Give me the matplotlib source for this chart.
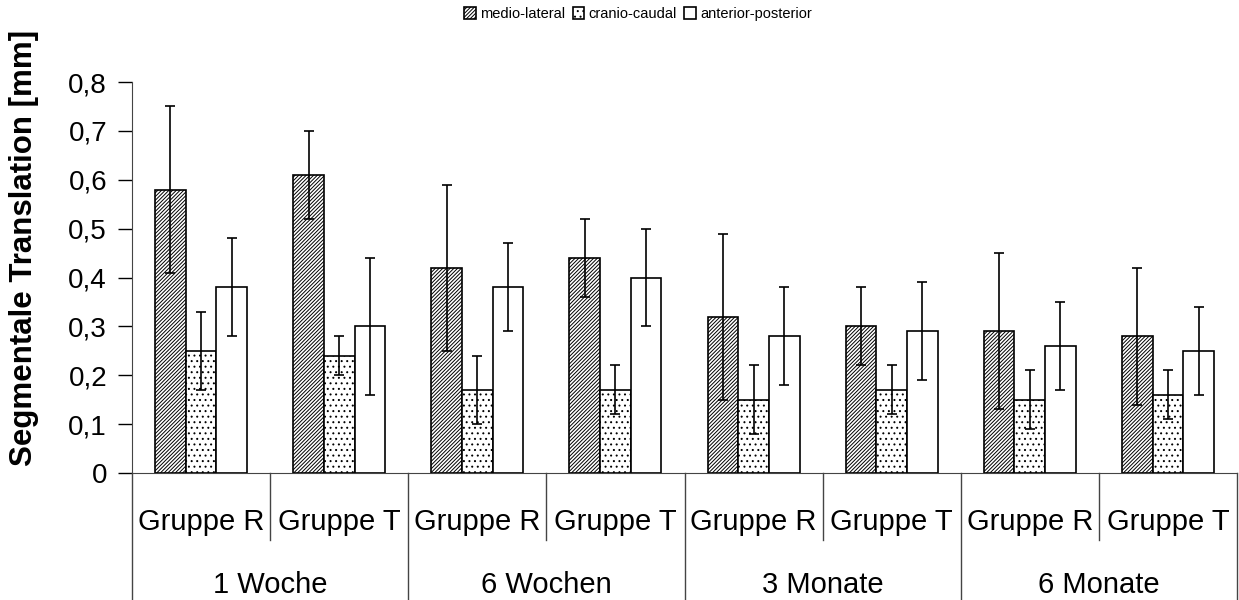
import numpy as np
import matplotlib
matplotlib.use("Agg")
import matplotlib.pyplot as plt
import matplotlib.transforms as mtransforms

plt.rcParams['font.family'] = ['Liberation Sans', 'DejaVu Sans']
plt.rcParams['hatch.linewidth'] = 0.7

# data
zeitpunkte = ["1 Woche", "6 Wochen", "3 Monate", "6 Monate"]
gruppen = ["Gruppe R", "Gruppe T"]
serien = ["medio-lateral", "cranio-caudal", "anterior-posterior"]

medio_lateral = [0.58, 0.61, 0.42, 0.44, 0.32, 0.30, 0.29, 0.28]
medio_lateral_sd = [0.17, 0.09, 0.17, 0.08, 0.17, 0.08, 0.16, 0.14]
cranio_caudal = [0.25, 0.24, 0.17, 0.17, 0.15, 0.17, 0.15, 0.16]
cranio_caudal_sd = [0.08, 0.04, 0.07, 0.05, 0.07, 0.05, 0.06, 0.05]
ant_post = [0.38, 0.30, 0.38, 0.40, 0.28, 0.29, 0.26, 0.25]
ant_post_sd = [0.10, 0.14, 0.09, 0.10, 0.10, 0.10, 0.09, 0.09]

yticks = [0, 0.1, 0.2, 0.3, 0.4, 0.5, 0.6, 0.7, 0.8]

fig = plt.figure(figsize=(12.39, 6), dpi=100)
ax = fig.add_axes([132/1239, 127/600, 1105/1239, 391/600])

x = np.arange(len(medio_lateral))
w = 0.222
werte = [medio_lateral, cranio_caudal, ant_post]
fehler = [medio_lateral_sd, cranio_caudal_sd, ant_post_sd]
hatches = ['/////////', '...', '']
for i in range(3):
    ax.bar(x + (i - 1) * w, werte[i], w, color='white', edgecolor='black',
           hatch=hatches[i], linewidth=1.2, label=serien[i],
           yerr=fehler[i], error_kw=dict(ecolor='black', elinewidth=1.2,
                                         capsize=3.6, capthick=1.2))

ax.set_xlim(-0.5, 7.5)
ax.set_ylim(0, 0.8)
ax.set_yticks(yticks)
ax.set_yticklabels([("%.1f" % v).replace(".", ",") if v else "0" for v in yticks])
ax.tick_params(axis='y', direction='out', length=10, width=1, labelsize=20, pad=8)
ax.tick_params(axis='x', bottom=False, labelbottom=False)
for s in ['top', 'right']:
    ax.spines[s].set_visible(False)
ax.spines['left'].set_color('#444444')
ax.spines['bottom'].set_color('#444444')

ax.set_ylabel("Segmentale Translation [mm]", fontsize=22.5, fontweight='bold')
ax.yaxis.set_label_coords(-0.084, 0.575)

# two-level category axis
trans = mtransforms.blended_transform_factory(ax.transData, ax.transAxes)
for k in range(len(x)):
    ax.text(x[k], -0.125, gruppen[k % 2], transform=trans, ha='center', va='center',
            fontsize=21)
for j, z in enumerate(zeitpunkte):
    ax.text(2 * j + 0.5, -0.286, z, transform=trans, ha='center', va='center', fontsize=21)
    ax.plot([2 * j + 0.5] * 2, [0, -0.171], transform=trans, color='#444444', lw=1,
            clip_on=False)
for b in [-0.5, 1.5, 3.5, 5.5, 7.5]:
    ax.plot([b, b], [0, -0.33], transform=trans, color='#444444', lw=1, clip_on=False)

fig.legend(loc='upper center', bbox_to_anchor=(0.515, 1.01), ncol=3, frameon=False,
           fontsize=10.5, handlelength=0.8, handleheight=0.8, handletextpad=0.3,
           columnspacing=0.5)

fig.savefig("out.png", dpi=100)
